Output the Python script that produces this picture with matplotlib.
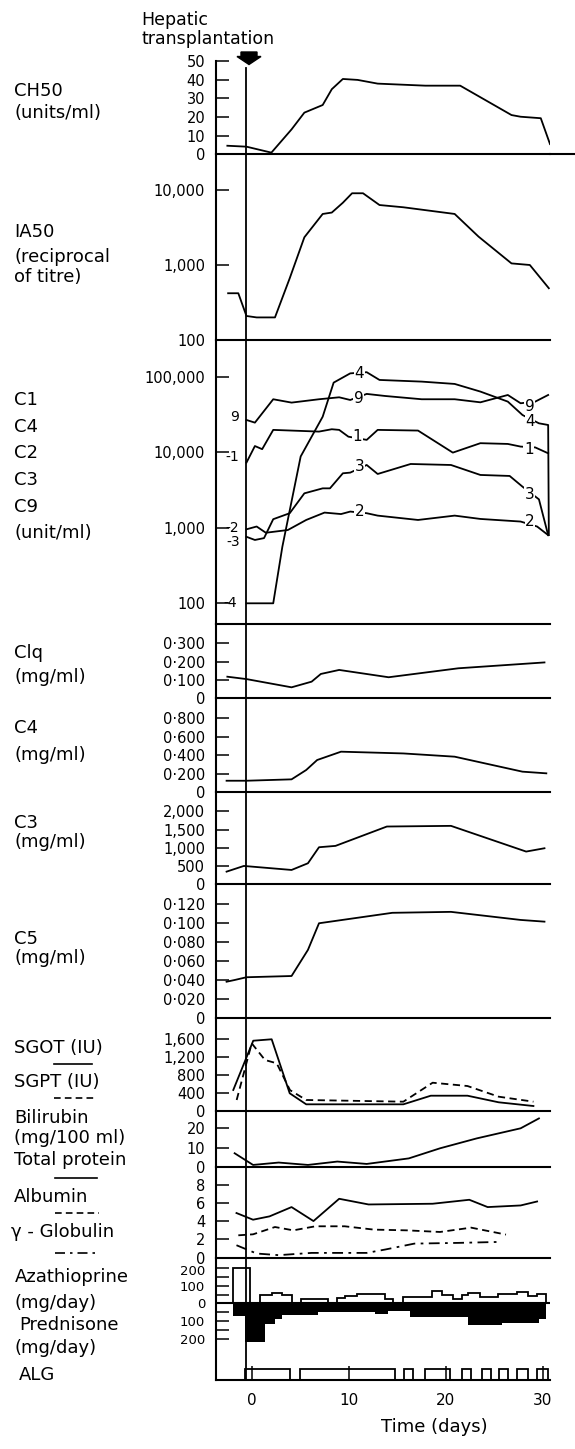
import numpy as np
import matplotlib.pyplot as plt
from matplotlib.lines import Line2D
from matplotlib.patches import Polygon
from matplotlib.transforms import blended_transform_factory, ScaledTranslation

plt.rcParams['font.family'] = ['DejaVu Sans']

# ---- data (time in days after hepatic transplantation) ----
ch50_day = [-2.51, -0.54, 2.03, 4.11, 5.43, 7.32, 8.26, 9.40, 10.92, 12.99, 17.90, 21.50, 26.79, 27.73, 29.81, 30.76]
ch50_val = [4.6, 4.1, 0.9, 13.4, 22.4, 26.5, 35, 40.5, 40, 38, 36.9, 36.9, 21.1, 20.2, 19.4, 5.5]

ia50_day = [-2.43, -1.38, -0.54, 0.51, 2.40, 3.92, 5.43, 7.32, 8.26, 9.40, 10.35, 11.48, 13.18, 15.64, 20.93, 23.39, 26.79, 28.68, 30.64]
ia50_val = [420, 420, 209, 200, 200, 665, 2340, 4790, 5000, 6760, 9040, 9040, 6300, 5880, 4790, 2390, 1050, 1000, 490]

c9_day = [-0.54, 0.33, 2.22, 4.11, 6.94, 9.02, 10.16, 11.86, 13.75, 17.53, 20.93, 23.58, 26.41, 27.73, 29.24, 30.57]
c9_val = [26800, 24700, 50400, 45500, 50400, 53500, 49300, 59300, 55700, 50400, 50400, 45900, 57400, 44600, 46900, 57400]

c1_day = [-0.54, 0.33, 1.08, 2.22, 6.94, 8.26, 9.02, 9.97, 11.86, 12.99, 17.15, 20.74, 23.58, 26.41, 27.73, 29.24, 30.57]
c1_val = [7300, 12100, 11000, 19800, 18800, 20200, 19800, 16100, 14600, 19800, 19400, 9900, 13200, 12900, 11900, 11600, 9700]

c4u_day = [-0.54, 2.22, 3.16, 5.05, 7.32, 8.45, 10.16, 11.86, 13.18, 17.53, 20.93, 23.58, 26.41, 27.92, 29.62, 30.57, 30.64]
c4u_val = [100, 100, 560, 8800, 29600, 83700, 111000, 115000, 90800, 86300, 80400, 63700, 46900, 31200, 24200, 23000, 800]

c3u_day = [-0.54, 0.33, 1.27, 2.22, 3.92, 5.43, 7.32, 8.07, 9.40, 10.16, 11.86, 12.99, 16.39, 20.55, 23.58, 26.60, 27.92, 29.62, 30.57]
c3u_val = [760, 690, 730, 1300, 1560, 2860, 3330, 3330, 5270, 5380, 6790, 5160, 7000, 6790, 5010, 4860, 3510, 2380, 800]

c2_day = [-0.54, 0.51, 1.46, 3.73, 5.62, 7.51, 9.21, 10.16, 11.86, 12.99, 17.15, 20.93, 23.58, 27.73, 29.43, 30.57]
c2_val = [955, 1040, 860, 935, 1270, 1590, 1520, 1640, 1560, 1450, 1270, 1450, 1310, 1210, 1040, 800]

# curve labels: (text, day, value)
c_labels = [('9', -1.76, 29100), ('-1', -2.05, 8770), ('-2', -2.05, 1000), ('-3', -1.95, 640), ('-4', -2.2, 100),
            ('4', 11.10, 111000), ('9', 11.03, 50800), ('1', 10.92, 16100), ('3', 11.10, 6460), ('2', 11.10, 1640),
            ('9', 28.68, 40300), ('4', 28.68, 25500), ('1', 28.57, 11000), ('3', 28.68, 2800), ('2', 28.68, 1210)]

clq_day = [-2.51, -0.54, 4.11, 6.18, 7.13, 9.02, 14.12, 21.31, 30.19]
clq_val = [0.118, 0.105, 0.060, 0.091, 0.133, 0.155, 0.115, 0.164, 0.196]

c4mg_day = [-2.59, -0.54, 4.11, 5.62, 6.75, 9.21, 15.64, 20.93, 27.92, 30.38]
c4mg_val = [0.125, 0.125, 0.14, 0.241, 0.349, 0.439, 0.42, 0.385, 0.223, 0.205]

c3mg_day = [-2.59, -0.81, 4.11, 5.80, 6.94, 8.64, 13.94, 20.55, 28.30, 30.19]
c3mg_val = [348, 504, 394, 578, 1018, 1055, 1587, 1605, 899, 990]

c5_day = [-2.59, -1.76, -0.54, 4.11, 5.80, 6.94, 14.50, 20.55, 27.73, 30.19]
c5_val = [0.0385, 0.0403, 0.0432, 0.0445, 0.072, 0.100, 0.111, 0.112, 0.1035, 0.1017]

sgot_day = [-1.90, 0.16, 2.06, 3.92, 5.62, 15.64, 18.47, 22.25, 25.47, 29.05]
sgot_val = [464, 1568, 1600, 390, 143, 143, 336, 336, 188, 105]
sgpt_day = [-1.55, 0.0, 1.37, 2.58, 3.95, 5.62, 15.64, 18.66, 22.25, 25.47, 29.05]
sgpt_val = [240, 1510, 1136, 1062, 461, 240, 202, 627, 553, 314, 202]

bili_day = [-1.76, 0.14, 2.78, 5.80, 8.83, 11.86, 16.20, 19.42, 23.20, 27.73, 29.62]
bili_val = [7.1, 1.2, 2.4, 1.2, 2.9, 1.7, 4.5, 9.6, 14.6, 19.7, 24.7]

tp_day = [-1.57, 0.14, 1.84, 4.11, 6.37, 9.02, 12.05, 18.66, 22.44, 24.33, 27.73, 29.43]
tp_val = [4.93, 4.19, 4.56, 5.59, 4.04, 6.51, 5.88, 5.96, 6.4, 5.59, 5.77, 6.21]
alb_day = [-1.38, 0.14, 2.40, 4.29, 6.56, 9.59, 12.61, 16.01, 19.42, 22.63, 26.22]
alb_val = [2.46, 2.57, 3.38, 3.01, 3.46, 3.46, 3.09, 3.01, 2.83, 3.31, 2.54]
gglob_day = [-1.57, 0.51, 2.78, 6.18, 11.86, 13.75, 16.77, 21.31, 25.66]
gglob_val = [1.36, 0.44, 0.26, 0.51, 0.51, 0.88, 1.54, 1.62, 1.73]

aza_edges = [-1.90, -0.18, 0.86, 2.06, 3.09, 4.12, 5.08, 7.89, 8.76, 9.62, 10.82, 13.74, 14.60, 15.63,
             18.56, 19.59, 20.79, 21.65, 22.33, 23.54, 25.42, 26.63, 27.35, 28.48, 29.41, 30.38]
aza_dose = [200, 0, 50, 60, 50, 0, 25, 0, 33, 42, 51, 27, 0, 36, 70, 47, 27, 47, 57, 36, 51, 54, 67, 42, 56]

pred_edges = [-1.96, -0.69, 1.37, 2.40, 3.09, 6.87, 12.71, 14.08, 16.32, 22.33, 25.83, 29.62, 30.38]
pred_dose = [69, 218, 117, 85, 62, 45, 60, 42, 78, 120, 110, 85]

alg_start = [-0.69, 4.98, 15.70, 17.87, 21.65, 23.71, 25.50, 27.35, 29.41]
alg_end = [3.95, 14.78, 16.66, 20.44, 22.58, 24.64, 26.45, 28.48, 30.54]

transplant_day = -0.55

# ---- layout ----
W, H = 575, 1449
fig = plt.figure(figsize=(W / 100, H / 100), dpi=100)
X0, X1 = 216.3, 550.0
DAY_MIN, DAY_MAX = -3.65, 30.76
LW = 1.3
TICK_FS = 10.5


def panel(top, bottom, ylim, ticks, labels, log=False):
    ax = fig.add_axes([X0 / W, 1 - bottom / H, (X1 - X0) / W, (bottom - top) / H])
    ax.patch.set_alpha(0)
    if log:
        ax.set_yscale('log')
    ax.set_xlim(DAY_MIN, DAY_MAX)
    ax.set_ylim(*ylim)
    for s in ('top', 'right'):
        ax.spines[s].set_visible(False)
    for s in ('left', 'bottom'):
        ax.spines[s].set_linewidth(1.5)
    ax.set_xticks([])
    ax.set_yticks(ticks)
    ax.set_yticklabels(labels)
    ax.minorticks_off()
    ax.tick_params(axis='y', direction='in', length=9, width=1.1, labelsize=TICK_FS, pad=8)
    return ax


ax_ch50 = panel(61.3, 154.3, (0, 50), [0, 10, 20, 30, 40, 50], ['0', '10', '20', '30', '40', '50'])
ax_ch50.plot(ch50_day, ch50_val, color='black', lw=LW)
ax_ch50.plot([DAY_MAX, 33.5], [0, 0], color='black', lw=1.5, clip_on=False)

ax_ia = panel(154.3, 340, (100, 29900), [100, 1000, 10000], ['100', '1,000', '10,000'], log=True)
ax_ia.plot(ia50_day, ia50_val, color='black', lw=LW)

ax_c = panel(340, 624, (53.2, 307000), [100, 1000, 10000, 100000], ['100', '1,000', '10,000', '100,000'], log=True)
for d, v in [(c9_day, c9_val), (c1_day, c1_val), (c4u_day, c4u_val), (c3u_day, c3u_val), (c2_day, c2_val)]:
    ax_c.plot(d, v, color='black', lw=LW)
for t, d, v in c_labels:
    kw = dict(bbox=dict(fc='white', ec='none', pad=0.3)) if d > 0 else {}
    fs = 11 if d > 0 else 10
    ax_c.text(d, v, t, ha='center', va='center', fontsize=fs, zorder=5, **kw)

ax_clq = panel(624, 698.3, (0, 0.406), [0, 0.1, 0.2, 0.3], ['0', '0·100', '0·200', '0·300'])
ax_clq.plot(clq_day, clq_val, color='black', lw=LW)

ax_c4 = panel(698.3, 792.3, (0, 1.016), [0, 0.2, 0.4, 0.6, 0.8], ['0', '0·200', '0·400', '0·600', '0·800'])
ax_c4.plot(c4mg_day, c4mg_val, color='black', lw=LW)

ax_c3 = panel(792.3, 884.3, (0, 2527), [0, 500, 1000, 1500, 2000], ['0', '500', '1,000', '1,500', '2,000'])
ax_c3.plot(c3mg_day, c3mg_val, color='black', lw=LW)

ax_c5 = panel(884.3, 1018.3, (0, 0.141), [0, 0.02, 0.04, 0.06, 0.08, 0.10, 0.12],
              ['0', '0·020', '0·040', '0·060', '0·080', '0·100', '0·120'])
ax_c5.plot(c5_day, c5_val, color='black', lw=LW)

ax_sg = panel(1018.3, 1110.7, (0, 2070), [0, 400, 800, 1200, 1600], ['0', '400', '800', '1,200', '1,600'])
ax_sg.plot(sgot_day, sgot_val, color='black', lw=LW)
ax_sg.plot(sgpt_day, sgpt_val, color='black', lw=LW, linestyle=(0, (4, 2.5)))

ax_bi = panel(1110.7, 1167.3, (0, 28.6), [0, 10, 20], ['0', '10', '20'])
ax_bi.plot(bili_day, bili_val, color='black', lw=LW)

ax_tp = panel(1167.3, 1257.5, (0, 10), [0, 2, 4, 6, 8], ['0', '2', '4', '6', '8'])
ax_tp.plot(tp_day, tp_val, color='black', lw=LW)
ax_tp.plot(alb_day, alb_val, color='black', lw=LW, linestyle=(0, (4, 2.5)))
ax_tp.plot(gglob_day, gglob_val, color='black', lw=LW, linestyle=(0, (6, 3, 1.5, 3)))

ax_dr = panel(1257.5, 1379.5, (-426.5, 258), [-200, -100, 0, 100, 200], ['200', '100', '0', '100', '200'])
ax_dr.set_yticks([-150, -50, 50, 150], minor=True)
ax_dr.tick_params(axis='y', which='minor', direction='in', length=9, width=1.1)
ax_dr.tick_params(axis='y', labelsize=9.5)
ax_dr.stairs(-np.array(pred_dose), pred_edges, baseline=0, fill=True, color='black', lw=0)
ax_dr.stairs(aza_dose, aza_edges, baseline=0, fill=False, color='black', lw=LW)
ax_dr.axhline(0, color='black', lw=1.5)
alg_w = np.array(alg_end) - np.array(alg_start)
ax_dr.bar(alg_start, 57.5, width=alg_w, bottom=-426.5, align='edge', fill=False, edgecolor='black', lw=LW)
ax_dr.set_xticks([0, 10, 20, 30])
ax_dr.set_xticklabels(['0', '10', '20', '30'])
ax_dr.tick_params(axis='x', direction='in', length=10, width=1.1, labelsize=11, pad=10)
# nudge the top "200" label down a little so it clears the protein "0" label above it
top_lbl = ax_dr.get_yticklabels()[-1]
top_lbl.set_transform(top_lbl.get_transform() + ScaledTranslation(0, -0.02, fig.dpi_scale_trans))

# transplantation marker
tf = blended_transform_factory(ax_ch50.transData, fig.transFigure)
fig.add_artist(Line2D([transplant_day, transplant_day], [1 - 68.3 / H, 1 - 1379.5 / H],
                      transform=tf, color='black', lw=LW))
arrow_px = [(241, 52), (257, 52), (257, 56.5), (261, 56.5), (249, 64.5), (237, 56.5), (241, 56.5)]
fig.add_artist(Polygon([(x / W, 1 - y / H) for x, y in arrow_px], closed=True,
                       transform=fig.transFigure, fc='black', ec='black'))
fig.text(141 / W, 1 - 20 / H, 'Hepatic', fontsize=12.5, va='center', ha='left')
fig.text(141 / W, 1 - 39.3 / H, 'transplantation', fontsize=12.5, va='center', ha='left')

# left-hand labels
left_labels = [
    ('CH50', 14, 90.7), ('(units/ml)', 14, 113.3),
    ('IA50', 14, 231.7), ('(reciprocal', 14, 256.7), ('of titre)', 14, 276.7),
    ('C1', 14, 400), ('C4', 14, 426.7), ('C2', 14, 453.3), ('C3', 14, 480), ('C9', 14, 506.7),
    ('(unit/ml)', 14, 532.7),
    ('Clq', 14, 653.3), ('(mg/ml)', 14, 677.3),
    ('C4', 14, 728.3), ('(mg/ml)', 14, 755),
    ('C3', 14, 823.3), ('(mg/ml)', 14, 841.7),
    ('C5', 14, 939), ('(mg/ml)', 14, 958.3),
    ('SGOT (IU)', 14, 1048.3), ('SGPT (IU)', 14, 1081.7),
    ('Bilirubin', 14, 1118.3), ('(mg/100 ml)', 14, 1138.3), ('Total protein', 14, 1160),
    ('Albumin', 14, 1196.7), ('γ - Globulin', 11, 1231.7),
    ('Azathioprine', 15, 1276.7), ('(mg/day)', 15, 1303.3), ('Prednisone', 19, 1325),
    ('(mg/day)', 15, 1348.3), ('ALG', 19, 1375),
]
for t, x, y in left_labels:
    fig.text(x / W, 1 - y / H, t, fontsize=13, va='center', ha='left')

keys = [(54, 92, 1064, '-'), (54, 96, 1098.3, (0, (4, 2.5))), (55, 97, 1178.3, '-'),
        (55, 99, 1213.3, (0, (4, 2.5))), (55, 100, 1253.3, (0, (6, 3, 1.5, 3)))]
for xa, xb, y, ls in keys:
    fig.add_artist(Line2D([xa / W, xb / W], [1 - y / H, 1 - y / H], transform=fig.transFigure,
                          color='black', lw=1.2, linestyle=ls))

fig.text(434.6 / W, 1 - 1426.7 / H, 'Time (days)', fontsize=13, ha='center', va='center')

fig.savefig('out.png', dpi=100, facecolor='white')
